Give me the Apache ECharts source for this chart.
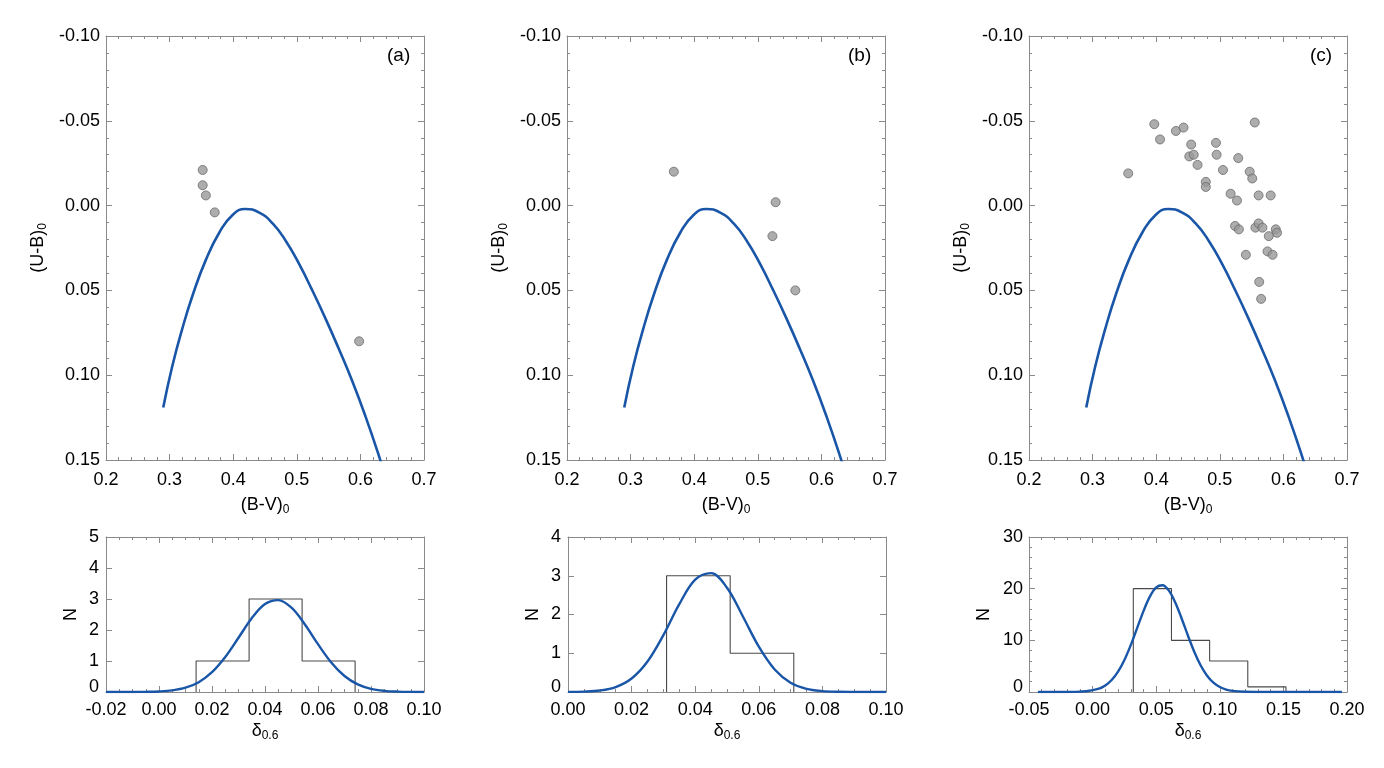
<!DOCTYPE html>
<html>
<head>
<meta charset="utf-8">
<script src="https://cdn.jsdelivr.net/npm/echarts@6/dist/echarts.min.js"></script>
<style>
html, body { margin: 0; padding: 0; background: #fff; }
#main { width: 1384px; height: 768px; }
</style>
</head>
<body>
<div id="main"></div>
<script>
// Hyades 标准线 (B-V)0 / (U-B)0, 超出 0.15 的部分由坐标系裁掉
var hyadesBV = [0.290, 0.304, 0.320, 0.337, 0.357, 0.378, 0.399, 0.419, 0.441, 0.462, 0.483, 0.504,
                0.524, 0.545, 0.566, 0.587, 0.608, 0.629, 0.650];
var hyadesUB = [0.119, 0.095, 0.0725, 0.052, 0.032, 0.016, 0.0055, 0.002, 0.0042, 0.0105, 0.021, 0.0347,
                0.0497, 0.0665, 0.0844, 0.1033, 0.1243, 0.1474, 0.1726];

// 三组恒星
var starsA_BV = [0.352, 0.352, 0.357, 0.371, 0.598];
var starsA_UB = [-0.021, -0.012, -0.006, 0.004, 0.080];
var starsB_BV = [0.368, 0.528, 0.523, 0.559];
var starsB_UB = [-0.020, -0.002, 0.018, 0.050];
var starsC_BV = [0.356, 0.397, 0.406, 0.431, 0.443, 0.455, 0.452, 0.459, 0.465, 0.494, 0.495, 0.505,
                 0.478, 0.478, 0.529, 0.547, 0.551, 0.555, 0.517, 0.527, 0.561, 0.580,
                 0.524, 0.530, 0.556, 0.561, 0.567, 0.588, 0.590, 0.577, 0.541, 0.575, 0.583, 0.562, 0.565];
var starsC_UB = [-0.019, -0.048, -0.039, -0.044, -0.046, -0.036, -0.029, -0.030, -0.024, -0.037, -0.030, -0.021,
                 -0.014, -0.011, -0.028, -0.020, -0.016, -0.049, -0.007, -0.003, -0.006, -0.006,
                 0.012, 0.014, 0.013, 0.0105, 0.013, 0.014, 0.016, 0.018, 0.029, 0.027, 0.029, 0.045, 0.055];

// 直方图 δ0.6
var histA_edges = [0.014, 0.034, 0.054, 0.074];
var histA_counts = [1, 3, 1];
var histB_edges = [0.031, 0.051, 0.071];
var histB_counts = [3, 1];
var histC_edges = [0.032, 0.062, 0.092, 0.122, 0.152];
var histC_counts = [20, 10, 6, 1];

// 高斯拟合曲线
var gaussA_x = [-0.02, -0.015, -0.01, -0.005, 0.0, 0.005, 0.01, 0.015, 0.02, 0.025, 0.03, 0.035, 0.04, 0.045,
                0.05, 0.055, 0.06, 0.065, 0.07, 0.075, 0.08, 0.085, 0.09, 0.095, 0.10];
var gaussA_y = [0, 0, 0.001, 0.005, 0.018, 0.053, 0.138, 0.317, 0.638, 1.128, 1.750, 2.379, 2.836, 2.965,
                2.719, 2.187, 1.543, 0.954, 0.517, 0.246, 0.103, 0.038, 0.012, 0.003, 0.001];
var gaussB_x = [0.0, 0.005, 0.01, 0.015, 0.02, 0.025, 0.03, 0.035, 0.04, 0.045, 0.05, 0.055, 0.06, 0.065,
                0.07, 0.075, 0.08, 0.085, 0.09, 0.095, 0.10];
var gaussB_y = [0.002, 0.010, 0.039, 0.128, 0.349, 0.787, 1.468, 2.267, 2.899, 3.068, 2.689, 1.949, 1.170, 0.582,
                0.239, 0.081, 0.023, 0.005, 0.001, 0, 0];
var gaussC_x = [-0.043, -0.035, -0.025, -0.015, -0.005, 0.005, 0.01, 0.015, 0.02, 0.025, 0.03, 0.035, 0.04, 0.045,
                0.05, 0.055, 0.06, 0.065, 0.07, 0.075, 0.08, 0.085, 0.09, 0.095, 0.10, 0.105, 0.11, 0.12, 0.13,
                0.14, 0.16, 0.18, 0.196];
var gaussC_y = [0, 0, 0.001, 0.022, 0.138, 0.654, 1.277, 2.32, 3.93, 6.19, 9.07, 12.36, 15.66, 18.46,
                20.25, 20.67, 19.62, 17.32, 14.23, 10.88, 7.74, 5.12, 3.15, 1.80, 0.96, 0.477, 0.22, 0.038, 0.005,
                0, 0, 0, 0];

var FONT = '"Liberation Sans", Arial, sans-serif';
var AXIS_GREY = '#8a8a8a';
var BLUE = '#1a56a8';

var grids = [], xAxes = [], yAxes = [], series = [];

function zip(a, b) {
    var out = [];
    for (var i = 0; i < a.length; i++) out.push([a[i], b[i]]);
    return out;
}

function histOutline(edges, counts) {
    var pts = [[edges[0], 0]];
    for (var i = 0; i < counts.length; i++) {
        pts.push([edges[i], counts[i]]);
        pts.push([edges[i + 1], counts[i]]);
    }
    pts.push([edges[edges.length - 1], 0]);
    return pts;
}

function richName(main, sub) {
    return '{m|' + main + '}{s|' + sub + '}';
}

var nameRich = {
    m: { fontSize: 18, fontFamily: FONT, color: '#000', lineHeight: 24 },
    s: { fontSize: 12, fontFamily: FONT, color: '#000', lineHeight: 14, padding: [10, 0, 0, 0] }
};

function axisCfg(g, pos, s, main) {
    return {
        type: 'value',
        gridIndex: g,
        position: pos,
        min: s.min,
        max: s.max,
        interval: s.interval,
        inverse: !!s.inverse,
        axisLine: { show: true, onZero: false, lineStyle: { color: AXIS_GREY, width: 1 } },
        axisTick: { show: true, inside: true, length: 6, lineStyle: { color: AXIS_GREY } },
        minorTick: { show: !!s.minor, splitNumber: s.minor || 5, length: 3, lineStyle: { color: AXIS_GREY } },
        splitLine: { show: false },
        axisLabel: {
            show: main,
            color: '#000',
            fontSize: 18,
            fontFamily: FONT,
            margin: s.margin,
            formatter: function (v) {
                if (Math.abs(v) < 1e-9) v = 0;
                var t = v.toFixed(s.digits);
                // 直方图纵轴的 0 略微上移
                if (s.liftZero && v === 0) return '{z|' + t + '}';
                return t;
            },
            rich: { z: { fontSize: 18, fontFamily: FONT, color: '#000', padding: [0, 0, 9, 0] } }
        },
        name: main ? s.name : '',
        nameLocation: 'middle',
        nameGap: s.nameGap,
        nameRotate: (pos === 'left') ? 90 : 0,
        nameTextStyle: { fontSize: 18, fontFamily: FONT, color: '#000', rich: nameRich }
    };
}

function addPanel(box, xs, ys) {
    var g = grids.length;
    grids.push({ left: box[0], top: box[1], width: box[2], height: box[3] });
    var idx = { x: xAxes.length, y: yAxes.length };
    xAxes.push(axisCfg(g, 'bottom', xs, true));
    xAxes.push(axisCfg(g, 'top', xs, false));
    yAxes.push(axisCfg(g, 'left', ys, true));
    yAxes.push(axisCfg(g, 'right', ys, false));
    return idx;
}

// 上排: 双色图
var ccdX = { min: 0.2, max: 0.7, interval: 0.1, minor: 5, digits: 1, margin: 11,
             name: richName('(B-V)', '0'), nameGap: 22 };
var ccdY = { min: -0.10, max: 0.15, interval: 0.05, minor: 5, digits: 2, margin: 6, inverse: true,
             name: richName('(U-B)', '0'), nameGap: 56 };
var topLefts = [106, 567, 1029];
var starsBV = [starsA_BV, starsB_BV, starsC_BV];
var starsUB = [starsA_UB, starsB_UB, starsC_UB];

for (var p = 0; p < 3; p++) {
    var ax = addPanel([topLefts[p], 36, 318, 424], ccdX, ccdY);
    series.push({
        type: 'line', xAxisIndex: ax.x, yAxisIndex: ax.y,
        data: zip(hyadesBV, hyadesUB), smooth: 0.5, symbol: 'none', silent: true, clip: true,
        lineStyle: { color: BLUE, width: 2.6 }, z: 3
    });
    series.push({
        type: 'scatter', xAxisIndex: ax.x, yAxisIndex: ax.y,
        data: zip(starsBV[p], starsUB[p]), symbolSize: 9, silent: true,
        itemStyle: { color: '#999999', borderColor: '#6a6a6a', borderWidth: 1 }, z: 4
    });
    series.push({
        type: 'scatter', xAxisIndex: ax.x, yAxisIndex: ax.y,
        data: [[0.272, 0.127]], symbolSize: 0, silent: true,
        itemStyle: { opacity: 0 },
        label: { show: true, position: 'right', distance: 0, formatter: 'Hyades',
                 color: '#000', fontSize: 16, fontFamily: FONT }
    });
}

// 下排: δ0.6 直方图
var histCfg = [
    { x: { min: -0.02, max: 0.10, interval: 0.02, minor: 4, digits: 2, margin: 9, name: richName('δ', '0.6'), nameGap: 25 },
      y: { min: 0, max: 5, interval: 1, minor: 0, digits: 0, margin: 7, name: 'N', nameGap: 26, liftZero: true },
      left: 106, edges: histA_edges, counts: histA_counts, gx: gaussA_x, gy: gaussA_y },
    { x: { min: 0, max: 0.10, interval: 0.02, minor: 4, digits: 2, margin: 9, name: richName('δ', '0.6'), nameGap: 25 },
      y: { min: 0, max: 4, interval: 1, minor: 0, digits: 0, margin: 7, name: 'N', nameGap: 26, liftZero: true },
      left: 568, edges: histB_edges, counts: histB_counts, gx: gaussB_x, gy: gaussB_y },
    { x: { min: -0.05, max: 0.20, interval: 0.05, minor: 5, digits: 2, margin: 9, name: richName('δ', '0.6'), nameGap: 25 },
      y: { min: 0, max: 30, interval: 10, minor: 5, digits: 0, margin: 6, name: 'N', nameGap: 36, liftZero: true },
      left: 1029, edges: histC_edges, counts: histC_counts, gx: gaussC_x, gy: gaussC_y }
];

histCfg.forEach(function (h) {
    var ax = addPanel([h.left, 537, 318, 155], h.x, h.y);
    series.push({
        type: 'line', xAxisIndex: ax.x, yAxisIndex: ax.y,
        data: histOutline(h.edges, h.counts), symbol: 'none', silent: true,
        lineStyle: { color: '#4a4a4a', width: 1.1 }, z: 2
    });
    series.push({
        type: 'line', xAxisIndex: ax.x, yAxisIndex: ax.y,
        data: zip(h.gx, h.gy), smooth: 0.35, symbol: 'none', silent: true,
        lineStyle: { color: BLUE, width: 2.4 }, z: 3
    });
});

var panelTags = ['(a)', '(b)', '(c)'];
var graphics = panelTags.map(function (t, i) {
    return {
        type: 'text', left: 387 + (topLefts[i] - 106), top: 46,
        style: { text: t, fill: '#000', font: '19px ' + FONT }
    };
});

var chart = echarts.init(document.getElementById('main'));
chart.setOption({
    animation: false,
    backgroundColor: '#fff',
    grid: grids,
    xAxis: xAxes,
    yAxis: yAxes,
    series: series,
    graphic: graphics
});
</script>
</body>
</html>
